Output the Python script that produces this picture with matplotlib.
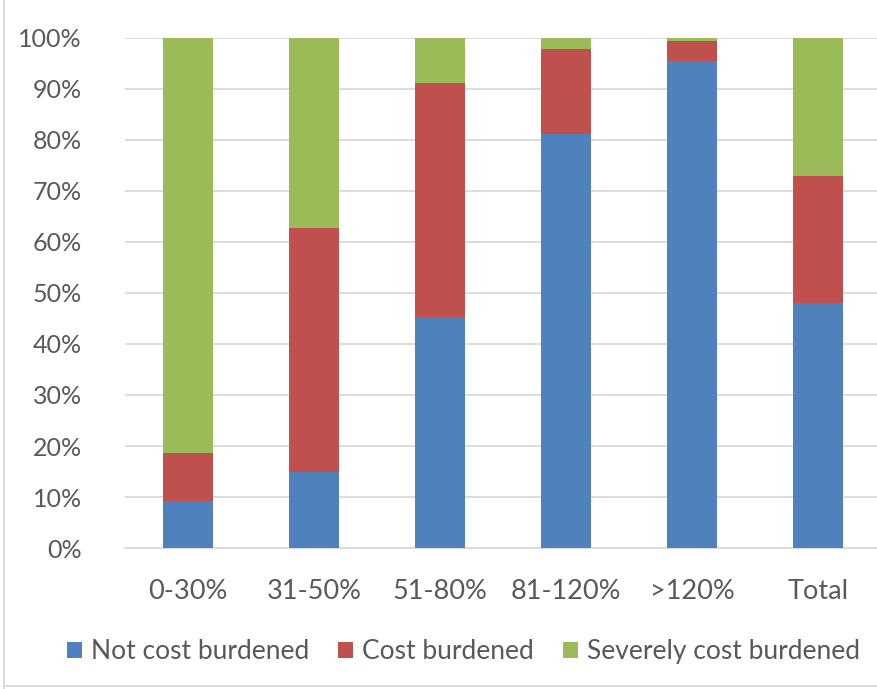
import numpy as np
import matplotlib
matplotlib.use("Agg")
import matplotlib.pyplot as plt
from matplotlib.lines import Line2D

categories = ["0-30%", "31-50%", "51-80%", "81-120%", ">120%", "Total"]
not_burdened = [9.2, 15.0, 45.2, 81.2, 95.4, 48.0]
burdened = [9.5, 47.7, 45.9, 16.7, 3.9, 25.0]
severe = [81.3, 37.3, 8.9, 2.1, 0.7, 27.0]
series_names = ["Not cost burdened", "Cost burdened", "Severely cost burdened"]
colors = ["#4f81bd", "#c0504d", "#9bbb59"]

plt.rcParams["font.family"] = ["Lato", "DejaVu Sans"]
txt = "#595959"

fig = plt.figure(figsize=(8.78, 6.89), dpi=100)
ax = fig.add_axes([0.1424, 0.2046, 0.861, 0.7404])

x = np.arange(len(categories))
bottom = np.zeros(len(categories))
for vals, name, c in zip([not_burdened, burdened, severe], series_names, colors):
    ax.bar(x, vals, bottom=bottom, width=0.4, color=c, label=name, zorder=3)
    bottom += np.array(vals)

ax.set_ylim(0, 100)
ax.set_xlim(-0.5, len(categories) - 0.5)
ax.set_yticks(np.arange(0, 101, 10))
ax.set_yticklabels([f"{v}%" for v in range(0, 101, 10)])
ax.set_xticks(x)
ax.set_xticklabels(categories)
ax.tick_params(length=0, colors=txt)
ax.tick_params(axis="y", labelsize=18, pad=31)
ax.tick_params(axis="x", labelsize=19.5, pad=22)
ax.grid(axis="y", color="#d9d9d9", lw=1.3, zorder=0)
for s in ["top", "right", "left"]:
    ax.spines[s].set_visible(False)
ax.spines["bottom"].set_color("#d9d9d9")
ax.spines["bottom"].set_linewidth(1.3)

fig.legend(loc="center", bbox_to_anchor=(0.528, 0.054), ncol=3, frameon=False,
           fontsize=19, labelcolor=txt, handlelength=0.55, handleheight=0.55,
           handletextpad=0.35, columnspacing=1.1)

# chart border (left and bottom only; image is cropped on the other sides)
fig.add_artist(Line2D([0.005, 0.005], [0.0, 1.0], transform=fig.transFigure,
                      color="#d9d9d9", lw=1.3))
fig.add_artist(Line2D([0.005, 1.0], [0.004, 0.004], transform=fig.transFigure,
                      color="#d9d9d9", lw=1.3))

plt.savefig("out.png", dpi=100)
